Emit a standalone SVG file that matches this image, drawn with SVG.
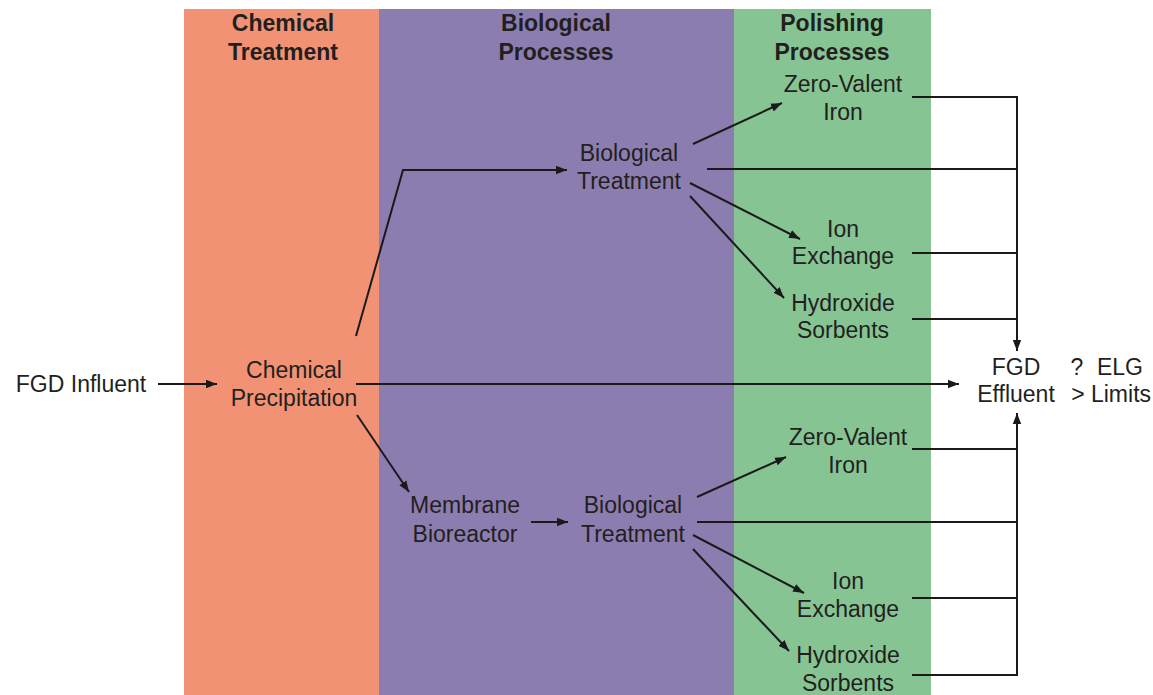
<svg xmlns="http://www.w3.org/2000/svg" width="1153" height="695" viewBox="0 0 1153 695">
<style>
text{font-family:"Liberation Sans",Arial,sans-serif;font-size:23px;fill:#231f20;text-anchor:middle}
.h{font-weight:bold}
.c{stroke:#1a1a1a;stroke-width:2;fill:none}
</style>
<defs>
<marker id="a" viewBox="0 0 10 10" refX="10" refY="5" markerWidth="5.5" markerHeight="5.5" orient="auto" markerUnits="strokeWidth">
<path d="M0,1.2 L10,5 L0,8.8 z" fill="#1a1a1a"/>
</marker>
</defs>
<rect width="1153" height="695" fill="#ffffff"/>
<g id="bands">
<rect x="184" y="9" width="195" height="686" fill="#f29274"/>
<rect x="379" y="9" width="355" height="686" fill="#8c7db0"/>
<rect x="734" y="9" width="197" height="686" fill="#86c593"/>
</g>
<g id="headings">
<text class="h" x="283" y="31">Chemical</text><text class="h" x="283" y="60">Treatment</text>
<text class="h" x="556" y="31">Biological</text><text class="h" x="556" y="60">Processes</text>
<text class="h" x="832" y="31">Polishing</text><text class="h" x="832" y="60">Processes</text>
</g>
<g id="connectors">
<path class="c" d="M158,384 H217" marker-end="url(#a)"/>
<path class="c" d="M356,336 L403,170 H567" marker-end="url(#a)"/>
<path class="c" d="M356,384 H959" marker-end="url(#a)"/>
<path class="c" d="M357,415 L409,492" marker-end="url(#a)"/>
<path class="c" d="M531,522 H568" marker-end="url(#a)"/>
<path class="c" d="M693,144 L782,103" marker-end="url(#a)"/>
<path class="c" d="M690,183 L800,239" marker-end="url(#a)"/>
<path class="c" d="M690,196 L784,298" marker-end="url(#a)"/>
<path class="c" d="M707,169 H1017"/>
<path class="c" d="M912,97 H1017 V351" marker-end="url(#a)"/>
<path class="c" d="M912,253 H1017"/>
<path class="c" d="M912,319 H1017"/>
<path class="c" d="M697,497 L786,457" marker-end="url(#a)"/>
<path class="c" d="M693,535 L804,593" marker-end="url(#a)"/>
<path class="c" d="M693,549 L789,651" marker-end="url(#a)"/>
<path class="c" d="M697,522 H1017"/>
<path class="c" d="M912,449 H1017"/>
<path class="c" d="M912,598 H1017"/>
<path class="c" d="M912,675 H1017 V413" marker-end="url(#a)"/>
</g>
<g id="fgd-influent"><text x="81" y="392">FGD Influent</text></g>
<g id="chemical-precipitation"><text x="294" y="378">Chemical</text><text x="294" y="406">Precipitation</text></g>
<g id="bio-treatment-1"><text x="629" y="161">Biological</text><text x="629" y="189">Treatment</text></g>
<g id="zvi-1"><text x="843" y="92">Zero-Valent</text><text x="843" y="120">Iron</text></g>
<g id="ix-1"><text x="843" y="237">Ion</text><text x="843" y="264">Exchange</text></g>
<g id="hs-1"><text x="843" y="311">Hydroxide</text><text x="843" y="338">Sorbents</text></g>
<g id="fgd-effluent"><text x="1016" y="375">FGD</text><text x="1016" y="402">Effluent</text></g>
<g id="elg"><text x="1077" y="375">?</text><text x="1078" y="402">&gt;</text><text x="1120" y="375">ELG</text><text x="1121" y="402">Limits</text></g>
<g id="membrane-bioreactor"><text x="465" y="513">Membrane</text><text x="465" y="542">Bioreactor</text></g>
<g id="bio-treatment-2"><text x="633" y="513">Biological</text><text x="633" y="542">Treatment</text></g>
<g id="zvi-2"><text x="848" y="445">Zero-Valent</text><text x="848" y="473">Iron</text></g>
<g id="ix-2"><text x="848" y="589">Ion</text><text x="848" y="617">Exchange</text></g>
<g id="hs-2"><text x="848" y="663">Hydroxide</text><text x="848" y="691">Sorbents</text></g>
</svg>
